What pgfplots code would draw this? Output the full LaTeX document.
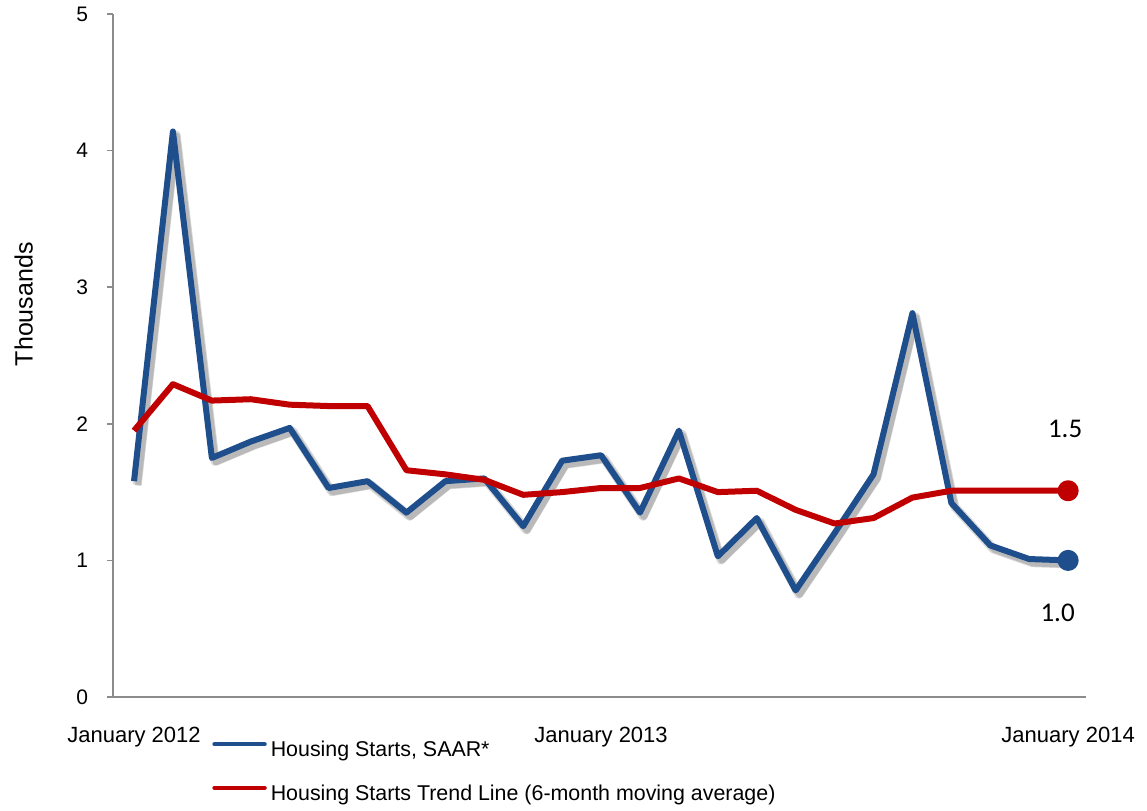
\documentclass[border=0pt]{standalone}
\usepackage{pgfplots}
\pgfplotsset{compat=1.18}
\usepackage{fontspec}
\setmainfont{Liberation Sans}
\newfontfamily\calibri{Carlito}
\definecolor{hsblue}{HTML}{1F4E8C}
\definecolor{hsred}{HTML}{C00000}
\definecolor{axgray}{HTML}{8C8C8C}
\pgfplotstableread{
idx saar trend
0  1.58 1.95
1  4.14 2.29
2  1.75 2.17
3  1.87 2.18
4  1.97 2.14
5  1.53 2.13
6  1.58 2.13
7  1.35 1.66
8  1.58 1.63
9  1.60 1.59
10 1.25 1.48
11 1.73 1.50
12 1.77 1.53
13 1.35 1.53
14 1.95 1.60
15 1.03 1.50
16 1.31 1.51
17 0.78 1.37
18 1.20 1.27
19 1.63 1.31
20 2.81 1.46
21 1.42 1.51
22 1.11 1.51
23 1.01 1.51
24 1.00 1.51
}\housing
\begin{document}
\begin{tikzpicture}
\begin{axis}[
  scale only axis,
  width=486.5pt, height=341.5pt,
  xmin=-0.54, xmax=24.46,
  ymin=0, ymax=5,
  clip=false,
  axis x line*=bottom,
  axis y line*=left,
  axis line style={draw=axgray, line width=0.8pt},
  tick style={draw=axgray, line width=0.8pt},
  tick align=outside,
  major tick length=3pt,
  xtick={0,12,24},
  xticklabels={January 2012, January 2013, January 2014},
  xtick style={draw=none},
  ytick={0,1,2,3,4,5},
  /pgf/number format/assume math mode=true,
  ticklabel style={font=\fontsize{10.5}{12}\selectfont},
  xticklabel style={yshift=-8.5pt, font=\fontsize{11}{13}\selectfont},
  yticklabel style={xshift=-6pt},
  ylabel={Thousands},
  every axis y label/.style={at={(axis description cs:-0.082,0.575)}, rotate=90, anchor=south, inner sep=0pt, font=\fontsize{12.5}{14}\selectfont},
  legend style={at={(axis description cs:0.1017,-0.058)}, anchor=north west, draw=none, fill=none, inner sep=0pt,
    font=\fontsize{10.7}{12}\selectfont, row sep=8.5pt, cells={anchor=west}},
  legend image code/.code={\draw[#1, line width=2.2pt, line cap=round] (0pt,3pt) -- (25pt,3pt);},
]
\path (rel axis cs:-0.11614,-0.16545) rectangle (rel axis cs:1.06269,1.0205);
\addplot[black, opacity=0.15, line width=4.5pt, line join=round, xshift=1.6pt, yshift=-1.8pt, forget plot] table[x=idx, y=saar] {\housing};
\addplot[black, opacity=0.15, line width=3pt, line join=round, xshift=2pt, yshift=-2.2pt, forget plot] table[x=idx, y=saar] {\housing};
\addplot[hsblue, line width=3pt, line join=round, mark=*, mark indices={25}, mark size=3.75pt, mark options={solid, fill=hsblue}] table[x=idx, y=saar] {\housing};
\addlegendentry{Housing Starts, SAAR*}
\addplot[hsred, line width=3pt, line join=round, mark=*, mark indices={25}, mark size=3.75pt, mark options={solid, fill=hsred}] table[x=idx, y=trend] {\housing};
\addlegendentry{Housing Starts Trend Line (6-month moving average)}
\node[font=\calibri\fontsize{13.5}{15}\selectfont, inner sep=0pt, xshift=-1.5pt, yshift=30.75pt] at (axis cs:24,1.51) {1.5};
\node[font=\calibri\fontsize{13.5}{15}\selectfont, inner sep=0pt, xshift=-5.25pt, yshift=-26pt] at (axis cs:24,1.00) {1.0};
\end{axis}
\end{tikzpicture}
\end{document}
